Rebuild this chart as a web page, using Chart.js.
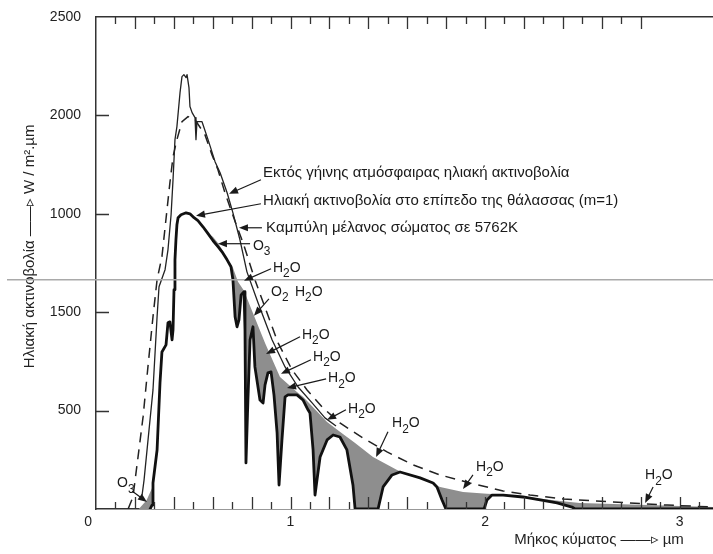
<!DOCTYPE html>
<html><head><meta charset="utf-8">
<script src="https://cdn.jsdelivr.net/npm/chart.js@4.4.0/dist/chart.umd.min.js"></script>
<style>html,body{margin:0;padding:0;background:#fff;}canvas{display:block;}</style>
</head><body>
<canvas id="c" width="713" height="554"></canvas>
<script>
// ---- data (µm, W/m².µm) ----
const extraWl  = [0.237,0.247,0.293,0.314,0.324,0.355,0.370,0.386,0.396,0.406,0.416,0.432,0.442,0.452,0.463,0.468,0.478,0.483,0.494,0.509,0.514,0.519,0.545,0.576,0.612,0.638,0.674,0.704,0.740,0.776,0.833,0.905,0.972,1.039,1.111,1.177,1.234];
const extraVal = [71,147,605,977,1129,1216,1317,1495,1673,1877,1943,2116,2197,2207,2192,2207,2141,2045,2014,1989,1877,1968,1968,1877,1765,1709,1607,1505,1368,1205,1048,860,722,620,539,463,422];

const seaWl  = [0.278,0.288,0.293,0.314,0.329,0.339,0.360,0.370,0.380,0.391,0.396,0.401,0.406,0.411,0.416,0.422,0.437,0.463,0.483,0.504,0.524,0.550,0.576,0.602,0.627,0.648,0.674,0.694,0.704,0.715,0.725,0.735,0.746,0.761,0.766,0.771,0.781,0.792,0.807,0.817,0.843,0.859,0.869,0.884,0.900,0.915,0.931,0.941,0.956,0.972,0.987,1.033,1.064,1.090,1.100,1.116,1.126,1.136,1.152,1.188,1.219,1.254,1.290,1.321,1.332,1.450,1.476,1.522,1.563,1.666,1.733,1.753,1.779,1.799,1.995,2.010,2.036,2.093,2.195,2.283,2.370,2.447,2.463,3.172];
const seaVal = [0,20,132,300,641,798,834,946,951,860,910,1114,1266,1368,1444,1480,1495,1505,1500,1480,1465,1434,1399,1363,1333,1307,1266,1231,1165,977,926,961,1088,1104,910,234,554,860,926,722,554,539,631,692,697,580,387,122,351,570,580,580,554,504,488,300,71,147,264,351,376,366,300,122,0,0,112,173,188,158,132,112,46,0,0,46,71,71,61,46,31,10,0,0];

// upper edge of the shaded (absorbed) area
const shadeWl  = [0.220,0.260,0.290,0.293,0.314,0.329,0.339,0.360,0.370,0.380,0.391,0.396,0.401,0.406,0.411,0.416,0.422,0.437,0.463,0.483,0.504,0.524,0.550,0.576,0.602,0.627,0.648,0.674,0.704,0.730,0.761,0.802,0.869,0.946,1.033,1.064,1.100,1.188,1.254,1.332,1.424,1.548,1.666,1.769,1.887,2.010,2.093,2.195,2.386,2.488,3.003,3.172];
const shadeVal = [0,45,110,132,300,641,798,834,946,951,860,910,1114,1266,1368,1444,1480,1495,1505,1500,1480,1465,1434,1402,1382,1352,1318,1268,1226,1155,1109,1007,844,671,595,570,534,442,392,336,264,198,147,112,86,78,74,64,41,31,15,10];

const bbWl  = [0.165,0.190,0.216,0.242,0.267,0.293,0.314,0.339,0.365,0.380,0.396,0.416,0.442,0.473,0.509,0.560,0.596,0.627,0.663,0.699,0.725,0.756,0.817,0.879,0.936,1.008,1.085,1.162,1.254,1.373,1.496,1.630,1.769,1.923,2.093,2.231,2.401,2.658,2.936,3.172];
const bbVal = [0,61,264,468,722,977,1165,1282,1521,1658,1790,1877,1968,1994,1978,1902,1800,1724,1607,1505,1434,1353,1165,997,844,707,605,519,437,361,290,224,173,132,92,71,51,36,20,10];

const yTickValues = [0,500,1000,1500,2000,2500];
const yTickLabels = ['','500','1500','1000','2000','2500'];
const xTickValues = [0,1,2,3];
const xTickLabels = ['0    ','1','2','3'];
const refLineValue = 1165;
const topTickLimit = 2.8;

// annotations: text position, arrow start, arrow tip (data coords)
const notes = [
  {t:'Εκτός γήινης ατμόσφαιρας ηλιακή ακτινοβολία', at:[0.859,1709], from:[0.848,1673], to:[0.684,1602]},
  {t:'Ηλιακή ακτινοβολία στο επίπεδο της θάλασσας (m=1)', at:[0.859,1566], from:[0.848,1551], to:[0.514,1490]},
  {t:'Καμπύλη μέλανος σώματος σε 5762K', at:[0.874,1429], from:[0.853,1429], to:[0.735,1429]},
  {t:'O_3', at:[0.807,1338], from:[0.792,1348], to:[0.627,1348]},
  {t:'H_2O', at:[0.910,1226], from:[0.900,1221], to:[0.761,1160]},
  {t:'O_2', at:[0.900,1104], from:[0.889,1068], to:[0.812,982]},
  {t:'H_2O', at:[1.023,1104]},
  {t:'H_2O', at:[1.059,885], from:[1.049,875], to:[0.874,788]},
  {t:'H_2O', at:[1.116,773], from:[1.105,758], to:[0.951,687]},
  {t:'H_2O', at:[1.193,666], from:[1.183,661], to:[0.982,615]},
  {t:'H_2O', at:[1.296,509], from:[1.285,504], to:[1.188,453]},
  {t:'H_2O', at:[1.522,437], from:[1.501,392], to:[1.440,264]},
  {t:'H_2O', at:[1.954,214], from:[1.938,173], to:[1.887,102]},
  {t:'H_2O', at:[2.823,173], from:[2.864,112], to:[2.823,31]},
  {t:'O_3', at:[0.108,132], from:[0.185,92], to:[0.262,36]}
];

const FONT = '"Liberation Sans", Arial, Helvetica, sans-serif';
const pts = (xs, ys) => xs.map((v, i) => ({x: v, y: ys[i]}));

function drawRich(ctx, s, x, y, size) {
  let cx = x;
  for (let i = 0; i < s.length; i++) {
    if (s[i] === '_' && i + 1 < s.length) {
      const c = s[i + 1];
      ctx.font = (size * 0.85) + 'px ' + FONT;
      ctx.fillText(c, cx, y + size * 0.45);
      cx += ctx.measureText(c).width;
      i++;
    } else {
      ctx.font = size + 'px ' + FONT;
      ctx.fillText(s[i], cx, y);
      cx += ctx.measureText(s[i]).width;
    }
  }
}
function arrow(ctx, x1, y1, x2, y2) {
  const a = Math.atan2(y2 - y1, x2 - x1), L = 9, W = 3.6;
  ctx.beginPath(); ctx.moveTo(x1, y1); ctx.lineTo(x2 - Math.cos(a) * L * 0.7, y2 - Math.sin(a) * L * 0.7); ctx.stroke();
  ctx.beginPath();
  ctx.moveTo(x2, y2);
  ctx.lineTo(x2 - L * Math.cos(a) + W * Math.sin(a), y2 - L * Math.sin(a) - W * Math.cos(a));
  ctx.lineTo(x2 - L * Math.cos(a) - W * Math.sin(a), y2 - L * Math.sin(a) + W * Math.cos(a));
  ctx.closePath(); ctx.fill();
}

const decor = {
  id: 'decor',
  afterDatasetsDraw(chart) {
    const {ctx} = chart, x = chart.scales.x, y = chart.scales.y;
    ctx.save();
    // horizontal grey line
    const ry = y.getPixelForValue(refLineValue);
    ctx.strokeStyle = '#a9a9a9'; ctx.lineWidth = 1.5;
    ctx.beginPath(); ctx.moveTo(7, ry); ctx.lineTo(chart.width, ry); ctx.stroke();
    // inward tick marks
    ctx.strokeStyle = '#333'; ctx.lineWidth = 1.3;
    ctx.beginPath();
    x.ticks.forEach(t => {
      if (t.value <= 0) return;
      const px = Math.round(x.getPixelForValue(t.value)) + 0.5;
      const len = Math.round(t.value * 10) % 2 === 0 ? 12 : 7;
      ctx.moveTo(px, y.bottom); ctx.lineTo(px, y.bottom - len);
      if (t.value <= topTickLimit + 1e-6) { ctx.moveTo(px, y.top); ctx.lineTo(px, y.top + len); }
    });
    y.ticks.forEach(t => {
      if (t.value <= 0 || t.value >= 2500) return;
      const py = Math.round(y.getPixelForValue(t.value)) + 0.5;
      ctx.moveTo(x.left, py); ctx.lineTo(x.left + 13, py);
    });
    ctx.stroke();
    // annotations
    ctx.fillStyle = '#1a1a1a'; ctx.strokeStyle = '#1a1a1a'; ctx.lineWidth = 1.2;
    ctx.textBaseline = 'middle'; ctx.textAlign = 'left';
    notes.forEach(n => {
      const big = n.t.length > 6;
      drawRich(ctx, n.t, x.getPixelForValue(n.at[0]), y.getPixelForValue(n.at[1]), big ? 15 : 14);
      if (n.from) arrow(ctx, x.getPixelForValue(n.from[0]), y.getPixelForValue(n.from[1]),
                        x.getPixelForValue(n.to[0]), y.getPixelForValue(n.to[1]));
    });
    ctx.restore();
  }
};

new Chart(document.getElementById('c'), {
  type: 'line',
  data: {
    datasets: [
      {label: 'shade', data: pts(shadeWl, shadeVal), order: 4, fill: 'origin', backgroundColor: '#8e8e8e', borderWidth: 0, pointRadius: 0},
      {label: 'sea', data: pts(seaWl, seaVal), order: 3, fill: 'origin', backgroundColor: '#ffffff', borderColor: '#111', borderWidth: 2.8, pointRadius: 0, borderJoinStyle: 'round', borderCapStyle: 'round'},
      {label: 'bb', data: pts(bbWl, bbVal), order: 2, fill: false, borderColor: '#222', borderWidth: 1.5, borderDash: [10, 7], pointRadius: 0},
      {label: 'extra', data: pts(extraWl, extraVal), order: 1, fill: false, borderColor: '#222', borderWidth: 1.3, pointRadius: 0, borderJoinStyle: 'round'}
    ]
  },
  options: {
    responsive: false, animation: false, events: [],
    layout: {padding: {top: 17, right: 0, bottom: 0, left: 0}},
    plugins: {legend: {display: false}, tooltip: {enabled: false}},
    scales: {
      x: {
        type: 'linear', position: 'bottom', min: 0, max: 3.172,
        afterFit: s => { s.height = 45; s.paddingLeft = 0; s.paddingRight = 0; },
        grid: {display: false, drawTicks: false},
        border: {display: true, color: '#333', width: 1.5},
        ticks: {stepSize: 0.1, includeBounds: false, autoSkip: false, maxRotation: 0, padding: 5,
          color: '#222', font: {family: FONT, size: 14},
          callback: v => { const i = xTickValues.findIndex(k => Math.abs(k - v) < 1e-6); return i >= 0 ? xTickLabels[i] : ''; }},
        title: {display: true, align: 'end', text: 'Μήκος κύματος ——▹ µm       ', color: '#222',
          font: {family: FONT, size: 15}, padding: {top: 0, bottom: 5}}
      },
      x2: {
        type: 'linear', position: 'top', min: 0, max: 3.172,
        afterFit: s => { s.height = 0; s.paddingLeft = 0; s.paddingRight = 0; },
        grid: {display: false, drawTicks: false},
        border: {display: true, color: '#333', width: 1.5},
        ticks: {display: false}
      },
      y: {
        min: 0, max: 2500,
        afterFit: s => { s.width = 96; s.paddingTop = 0; s.paddingBottom = 0; },
        grid: {display: false, drawTicks: false},
        border: {display: true, color: '#333', width: 1.5},
        ticks: {stepSize: 500, padding: 15, color: '#222', font: {family: FONT, size: 14},
          callback: v => { const i = yTickValues.indexOf(v); return i >= 0 ? yTickLabels[i] : ''; }},
        title: {display: true, text: '        Ηλιακή ακτινοβολία ——▹ W / m².µm', color: '#222',
          font: {family: FONT, size: 15}, padding: {top: 21, bottom: 0}}
      }
    }
  },
  plugins: [decor]
});
</script>
</body></html>
